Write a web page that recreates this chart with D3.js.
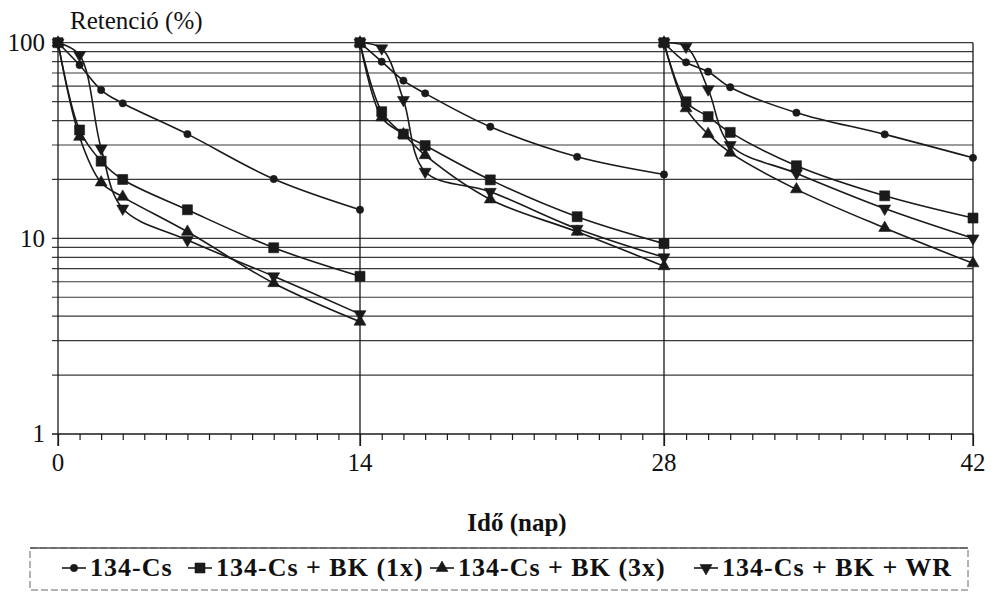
<!DOCTYPE html>
<html><head><meta charset="utf-8">
<script src="https://cdn.jsdelivr.net/npm/d3@7"></script>
<style>
body{margin:0;background:#fff}
svg{display:block}
</style>
</head><body>
<svg id="c" width="998" height="593"></svg>
<script>
// ---- data ----
const seriesNames = ["134-Cs", "134-Cs + BK (1x)", "134-Cs + BK (3x)", "134-Cs + BK + WR"];
const seriesSymbols = ["circle", "square", "triangleUp", "triangleDown"];
const days1 = [0, 1, 2, 3, 6, 10, 14];
const days2 = [14, 15, 16, 17, 20, 24, 28];
const days3 = [28, 29, 30, 31, 34, 38, 42];
const cs   = [[100, 76.9, 57.3, 49.0, 34.1, 20.1, 14.0],
              [100, 80.0, 64.0, 55.1, 37.2, 26.1, 21.2],
              [100, 79.4, 71.1, 59.2, 43.9, 34.0, 25.8]];
const bk1  = [[100, 35.8, 24.8, 20.0, 14.0, 8.95, 6.4],
              [100, 44.4, 34.1, 29.8, 19.9, 12.9, 9.4],
              [100, 49.9, 41.9, 34.8, 23.5, 16.5, 12.7]];
const bk3  = [[100, 33.0, 19.3, 16.3, 10.8, 5.9, 3.75],
              [100, 41.5, 34.0, 26.6, 15.8, 10.8, 7.2],
              [100, 46.2, 34.1, 27.4, 17.8, 11.3, 7.45]];
const bkwr = [[100, 86.5, 28.8, 14.2, 9.8, 6.4, 4.1],
              [100, 93.6, 51.0, 21.9, 17.3, 11.2, 8.0],
              [100, 95.4, 57.8, 30.0, 21.5, 14.2, 10.0]];
const xTickLabels = [0, 14, 28, 42];
const yTickLabels = [1, 10, 100];
const yTitle = "Retenció (%)";
const xTitle = "Idő (nap)";

// ---- font warm-up ----
const FONT = "'Liberation Serif', 'Times New Roman', serif";
const cv = document.createElement("canvas").getContext("2d");
["", "bold "].forEach(wt => { cv.font = wt + "25px " + FONT; cv.measureText("Retenció Idő 134-Cs + BK (1x) WR 0123456789"); });

// ---- setup ----
const svg = d3.select("#c");
const segDays = [days1, days2, days3];
const allSeries = [cs, bk1, bk3, bkwr];

const x = d3.scaleLinear().domain([0, 14, 28, 42]).range([58, 360, 664, 973]);
const y = d3.scaleLog().domain([1, 100]).range([434, 42.7]);

const ink = "#1a1a1a";
const gridCol = "#3a3a3a";

// horizontal gridlines (log minor ticks)
const gTicks = y.ticks().filter(v => v > 1);
svg.append("g").selectAll("line").data(gTicks).join("line")
  .attr("x1", x(0) - 6).attr("x2", x(42))
  .attr("y1", d => y(d)).attr("y2", d => y(d))
  .attr("stroke", gridCol).attr("stroke-width", 1.2);

// x axis
const xAxis = d3.axisBottom(x).tickValues(d3.range(0, 43)).tickSize(6).tickFormat("");
const gx = svg.append("g").attr("transform", `translate(0,${y(1)})`).call(xAxis);
gx.select(".domain").attr("stroke", ink).attr("stroke-width", 1.3).attr("d", `M${x(0)-6},0H${x(42)}`);
gx.selectAll(".tick line").attr("stroke", ink).attr("stroke-width", 1.2)
  .attr("y2", d => xTickLabels.includes(d) ? 12 : 6);
// major vertical lines
svg.append("g").selectAll("line").data(xTickLabels).join("line")
  .attr("x1", d => x(d)).attr("x2", d => x(d))
  .attr("y1", y(100)).attr("y2", y(1) + 12)
  .attr("stroke", ink).attr("stroke-width", 1.3);

const gt = svg.append("g").attr("font-family", FONT).attr("fill", "#111");
// x tick labels
gt.append("g").selectAll("text").data(xTickLabels).join("text")
  .attr("x", d => x(d)).attr("y", y(1) + 37)
  .attr("text-anchor", "middle").attr("font-size", 25).text(d => d);
// y tick labels
gt.append("g").selectAll("text").data(yTickLabels).join("text")
  .attr("x", 45).attr("y", d => y(d)).attr("dy", "0.33em")
  .attr("text-anchor", "end").attr("font-size", 25).text(d => d);
// titles
gt.append("text").attr("x", 70).attr("y", 29).attr("font-size", 25).text(yTitle);
gt.append("text").attr("x", 517).attr("y", 531).attr("text-anchor", "middle")
  .attr("font-size", 25).attr("font-weight", "bold").text(xTitle);

// symbols
function symbolPath(kind) {
  if (kind === "circle") return d3.symbol(d3.symbolCircle, 42)();
  if (kind === "square") return d3.symbol(d3.symbolSquare, 100)();
  return d3.symbol(d3.symbolTriangle, 62)();
}
function addMarker(g, kind, cx, cy) {
  g.append("path").attr("d", symbolPath(kind))
    .attr("transform", `translate(${cx},${cy})${kind === "triangleDown" ? " rotate(180)" : ""}`)
    .attr("fill", ink).attr("stroke", ink).attr("stroke-width", 0.6);
}

const line = d3.line().x(d => x(d[0])).y(d => y(d[1])).curve(d3.curveCatmullRom.alpha(0.5));
const gl = svg.append("g");
allSeries.forEach((ser, si) => {
  ser.forEach((vals, k) => {
    const pts = segDays[k].map((dd, i) => [dd, vals[i]]);
    gl.append("path").attr("d", line(pts)).attr("fill", "none")
      .attr("stroke", ink).attr("stroke-width", 1.6);
  });
});
const drawOrder = [0, 2, 3, 1];
const gm = svg.append("g");
drawOrder.forEach(si => {
  allSeries[si].forEach((vals, k) => {
    segDays[k].forEach((dd, i) => addMarker(gm, seriesSymbols[si], x(dd), y(vals[i])));
  });
});

// legend
const lg = svg.append("g");
lg.append("rect").attr("x", 30).attr("y", 548).attr("width", 938).attr("height", 42)
  .attr("fill", "none").attr("stroke", "#666").attr("stroke-width", 1).attr("stroke-dasharray", "7,3");
lg.append("line").attr("x1", 30).attr("x2", 968).attr("y1", 548).attr("y2", 548)
  .attr("stroke", "#555").attr("stroke-width", 1.4);
const legTextX = [90, 216, 458, 722];
seriesNames.forEach((name, i) => {
  const tx = legTextX[i];
  lg.append("line").attr("x1", tx - 28).attr("x2", tx - 4).attr("y1", 568).attr("y2", 568)
    .attr("stroke", ink).attr("stroke-width", 1.6);
  addMarker(lg, seriesSymbols[i], tx - 16, 568);
  lg.append("text").attr("x", tx).attr("y", 576).attr("font-size", 26).attr("font-family", FONT)
    .attr("letter-spacing", 1.0).attr("font-weight", "bold").attr("fill", "#111").text(name);
});
</script>
</body></html>
